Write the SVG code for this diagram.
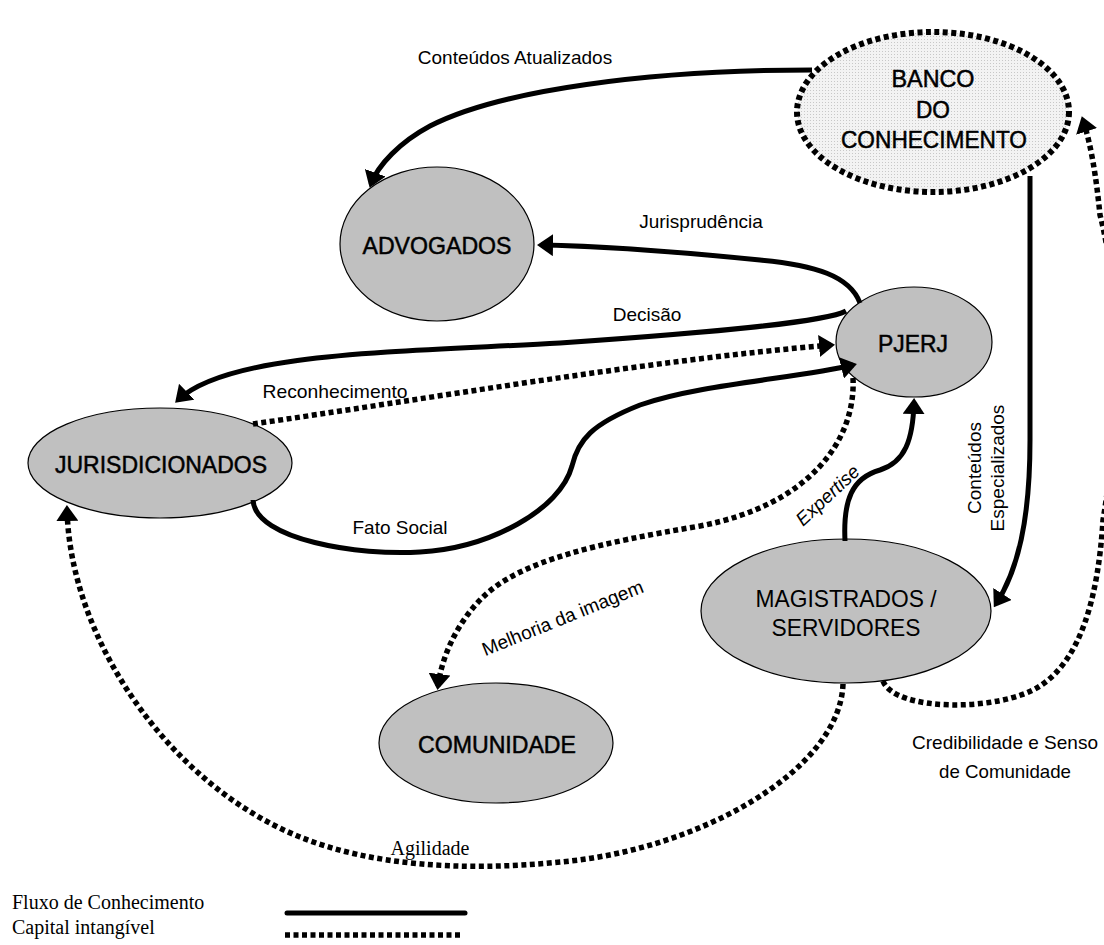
<svg xmlns="http://www.w3.org/2000/svg" width="1104" height="945" viewBox="0 0 1104 945">
<defs>
<style>
.node{fill:#c0c0c0;stroke:#000;stroke-width:1.2}
.nl{font-family:"Liberation Sans",Arial,sans-serif;font-size:24px;fill:#000;text-anchor:middle;stroke:#000;stroke-width:0.5}
.nl2{font-family:"Liberation Sans",Arial,sans-serif;font-size:24px;fill:#000;text-anchor:middle}
.solid{fill:none;stroke:#000;stroke-width:5}
.dot{fill:none;stroke:#000;stroke-width:5.5;stroke-dasharray:5 3.5}
.el{font-family:"Liberation Sans",Arial,sans-serif;font-size:19px;fill:#000;text-anchor:middle}
.lg{font-family:"Liberation Serif","Times New Roman",serif;font-size:20px;fill:#000}
</style>
<pattern id="dots" width="3" height="3" patternUnits="userSpaceOnUse"><rect width="3" height="3" fill="#f3f3f3"/><rect width="1" height="1" fill="#c8c8c8"/></pattern>
<marker id="ah" viewBox="0 0 16 22" refX="12" refY="11" markerWidth="16" markerHeight="22" markerUnits="userSpaceOnUse" orient="auto"><path d="M0,0 L16,11 L0,22 z" fill="#000"/></marker>
</defs>
<rect width="1104" height="945" fill="#fff"/>

<g id="banco">
<ellipse cx="933" cy="112" rx="136" ry="80" fill="url(#dots)" stroke="#000" stroke-width="6" stroke-dasharray="5 3.5"/>
<text class="nl" x="933" y="87" textLength="83" lengthAdjust="spacingAndGlyphs">BANCO</text>
<text class="nl" x="933" y="118" textLength="34" lengthAdjust="spacingAndGlyphs">DO</text>
<text class="nl" x="934" y="148" textLength="186" lengthAdjust="spacingAndGlyphs">CONHECIMENTO</text>
</g>
<g id="advogados">
<ellipse class="node" cx="437" cy="244" rx="97" ry="77"/>
<text class="nl" x="437" y="254" textLength="149" lengthAdjust="spacingAndGlyphs">ADVOGADOS</text>
</g>
<g id="pjerj">
<ellipse class="node" cx="914" cy="342" rx="78" ry="55"/>
<text class="nl" x="913" y="352" textLength="70" lengthAdjust="spacingAndGlyphs">PJERJ</text>
</g>
<g id="jurisdicionados">
<ellipse class="node" cx="160" cy="463" rx="132" ry="55"/>
<text class="nl" x="161" y="473" textLength="212" lengthAdjust="spacingAndGlyphs">JURISDICIONADOS</text>
</g>
<g id="magistrados">
<ellipse class="node" cx="846" cy="611" rx="145" ry="72"/>
<text class="nl2" x="846" y="607" textLength="181" lengthAdjust="spacingAndGlyphs">MAGISTRADOS /</text>
<text class="nl2" x="846" y="636" textLength="149" lengthAdjust="spacingAndGlyphs">SERVIDORES</text>
</g>
<g id="comunidade">
<ellipse class="node" cx="496" cy="743" rx="117" ry="60"/>
<text class="nl" x="497" y="753" textLength="158" lengthAdjust="spacingAndGlyphs">COMUNIDADE</text>
</g>

<g id="connectors">
<path class="solid" marker-end="url(#ah)" d="M812,70 C650,70 500,90 430,126 C400,142 378,165 371,184"/>
<path class="solid" marker-end="url(#ah)" d="M860,303 C850,276 815,265 760,260 C690,253 600,246 541,245"/>
<path class="solid" marker-end="url(#ah)" d="M846,311 C826,322 720,332 560,343 C400,352 228,352 178,400"/>
<path class="dot" marker-end="url(#ah)" d="M253,424 C420,400 650,360 831,345"/>
<path class="solid" marker-end="url(#ah)" d="M253,500 C255,540 360,556 420,552 C490,548 560,510 572,466 C578,440 592,424 640,405 C700,384 800,378 853,365"/>
<path class="dot" marker-end="url(#ah)" d="M853,378 C856,440 810,505 700,526 C600,543 520,560 482,598 C458,622 442,655 438,686"/>
<path class="solid" marker-end="url(#ah)" d="M845,541 C843,500 852,478 880,470 C905,462 913,440 914,402"/>
<path class="solid" marker-end="url(#ah)" d="M1030,176 L1030,440 C1030,520 1018,570 996,604"/>
<path class="dot" marker-end="url(#ah)" d="M883,681 C895,712 1000,712 1040,686 C1080,660 1098,600 1103,520 C1120,420 1120,290 1100,215 C1096,175 1091,145 1083,120"/>
<path class="dot" marker-end="url(#ah)" d="M843,684 C840,770 700,850 560,862 C460,872 370,865 300,837 C170,785 70,640 67,509"/>
</g>

<g id="labels">
<text class="el" x="515" y="64">Conteúdos Atualizados</text>
<text class="el" x="701" y="228">Jurisprudência</text>
<text class="el" x="647" y="321">Decisão</text>
<text class="el" x="335" y="398" textLength="145" lengthAdjust="spacingAndGlyphs">Reconhecimento</text>
<text class="el" x="400" y="534" textLength="95" lengthAdjust="spacingAndGlyphs">Fato Social</text>
<text class="el" transform="translate(565,624) rotate(-22)">Melhoria da imagem</text>
<text class="el" font-style="italic" transform="translate(832,500) rotate(-43)">Expertise</text>
<text class="el" transform="translate(981,468) rotate(-90)">Conteúdos</text>
<text class="el" transform="translate(1004,468) rotate(-90)">Especializados</text>
<text class="el" x="1005" y="749" textLength="186" lengthAdjust="spacingAndGlyphs">Credibilidade e Senso</text>
<text class="el" x="1005" y="778" textLength="132" lengthAdjust="spacingAndGlyphs">de Comunidade</text>
<text class="lg" x="430" y="855" text-anchor="middle">Agilidade</text>
</g>

<g id="legend">
<text class="lg" x="12" y="909">Fluxo de Conhecimento</text>
<text class="lg" x="12" y="934">Capital intangível</text>
<line x1="287" y1="913" x2="465" y2="913" stroke="#000" stroke-width="5" stroke-linecap="round"/>
<line x1="285" y1="935" x2="460" y2="935" class="dot"/>
</g>
</svg>
